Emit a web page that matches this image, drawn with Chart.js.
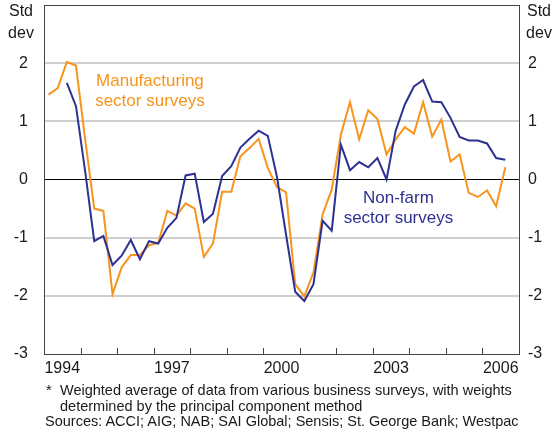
<!DOCTYPE html>
<html>
<head>
<meta charset="utf-8">
<script src="https://cdn.jsdelivr.net/npm/chart.js@4.4.1/dist/chart.umd.min.js"></script>
<style>
  html, body { margin: 0; padding: 0; background: #fff; }
  #wrap { position: relative; width: 557px; height: 433px; font-family: "Liberation Sans", Arial, sans-serif; }
  canvas { position: absolute; left: 0; top: 0; }
  #notes { position: absolute; left: 45px; top: 383px; font-size: 14.5px; line-height: 15.5px; color: #1a1a1a; white-space: nowrap; }
  #notes .fn { position: relative; padding-left: 15px; }
  #notes .fn span { position: absolute; left: 1px; top: 0; }
</style>
</head>
<body>
<div id="wrap">
  <canvas id="c" width="557" height="433"></canvas>
  <div id="notes">
    <div class="fn"><span>*</span>Weighted average of data from various business surveys, with weights<br>determined by the principal component method</div>
    <div>Sources: ACCI; AIG; NAB; SAI Global; Sensis; St. George Bank; Westpac</div>
  </div>
</div>
<script>
// Quarterly data, first quarter = 1994 Q1
const startYear = 1994;
const manufacturing = [
  1.46, 1.57, 2.02, 1.96,
  0.70, -0.50, -0.54, -1.97,
  -1.51, -1.30, -1.30, -1.13,
  -1.09, -0.54, -0.62, -0.41,
  -0.50, -1.33, -1.10, -0.21,
  -0.21, 0.40, 0.54, 0.70,
  0.20, -0.13, -0.22, -1.80,
  -2.01, -1.60, -0.60, -0.17,
  0.77, 1.33, 0.69, 1.19,
  1.04, 0.43, 0.69, 0.90,
  0.79, 1.33, 0.74, 1.03,
  0.31, 0.43, -0.23, -0.30,
  -0.19, -0.46, 0.21
];
const nonFarm = [
  null, null, 1.66, 1.26,
  0.15, -1.06, -0.97, -1.47,
  -1.31, -1.04, -1.37, -1.06,
  -1.10, -0.83, -0.66, 0.07,
  0.10, -0.73, -0.59, 0.06,
  0.23, 0.55, 0.70, 0.84,
  0.75, 0.05, -0.95, -1.93,
  -2.09, -1.80, -0.71, -0.88,
  0.60, 0.16, 0.30, 0.21,
  0.37, 0.00, 0.84, 1.29,
  1.60, 1.71, 1.34, 1.33,
  1.06, 0.73, 0.67, 0.67,
  0.62, 0.37, 0.34
];
const yTickValues = [-3, -2, -1, 0, 1, 2, 3];
const yearLabels = [1994, 1997, 2000, 2003, 2006];
const yearTicks = [1995, 1996, 1997, 1998, 1999, 2000, 2001, 2002, 2003, 2004, 2005, 2006];

const BLUE = '#2e3192';
const ORANGE = '#f7941d';
const FONT = '"Liberation Sans", Arial, sans-serif';

function toPoints(arr) {
  return arr.map((v, i) => ({ x: startYear + (i + 0.5) / 4, y: v }));
}

const decor = {
  id: 'decor',
  afterDatasetsDraw(chart) {
    const ctx = chart.ctx;
    const a = chart.chartArea;
    const xs = chart.scales.x, ys = chart.scales.y;
    ctx.save();
    ctx.strokeStyle = '#444';
    ctx.lineWidth = 1;
    ctx.strokeRect(Math.round(a.left) + 0.5, Math.round(a.top) + 0.5,
      Math.round(a.right - a.left), Math.round(a.bottom - a.top));
    ctx.beginPath();
    yearTicks.forEach(y => {
      const px = Math.round(xs.getPixelForValue(y)) + 0.5;
      ctx.moveTo(px, a.bottom);
      ctx.lineTo(px, a.bottom - 6);
    });
    ctx.stroke();
    ctx.font = '17px ' + FONT;
    ctx.textAlign = 'center';
    ctx.textBaseline = 'middle';
    ctx.fillStyle = ORANGE;
    let cx = xs.getPixelForValue(1996.9), cy = ys.getPixelForValue(1.69);
    ctx.fillText('Manufacturing', cx, cy);
    ctx.fillText('sector surveys', cx, cy + 20);
    ctx.fillStyle = BLUE;
    cx = xs.getPixelForValue(2003.7); cy = ys.getPixelForValue(-0.33);
    ctx.fillText('Non-farm', cx, cy);
    ctx.fillText('sector surveys', cx, cy + 20);
    ctx.font = '16px ' + FONT;
    ctx.fillStyle = '#1a1a1a';
    ctx.fillText('Std', 21, 12);
    ctx.fillText('dev', 21, 34);
    ctx.fillText('Std', 539, 12);
    ctx.fillText('dev', 539, 34);
    ctx.restore();
  }
};

const gridColor = ctx => {
  const v = ctx.tick && ctx.tick.value;
  if (v === 0) return '#000';
  if (v === 3 || v === -3) return 'rgba(0,0,0,0)';
  return '#cfcfcf';
};
const gridWidth = ctx => (ctx.tick && ctx.tick.value === 0) ? 1 : 2;

function yAxis(position, width, pad) {
  return {
    type: 'linear',
    position: position,
    min: -3, max: 3,
    afterBuildTicks: s => { s.ticks = yTickValues.map(v => ({ value: v })); },
    afterFit: s => { s.width = width; s.paddingTop = 0; s.paddingBottom = 0; },
    ticks: {
      callback: v => (v === 3 ? '' : String(v)),
      color: '#1a1a1a',
      font: { family: FONT, size: 16 },
      padding: pad
    },
    grid: {
      display: position === 'left',
      drawTicks: false,
      color: gridColor,
      lineWidth: gridWidth
    },
    border: { display: false }
  };
}

new Chart(document.getElementById('c'), {
  type: 'line',
  data: {
    datasets: [
      {
        label: 'Non-farm sector surveys',
        data: toPoints(nonFarm),
        borderColor: BLUE,
        borderWidth: 2,
        pointRadius: 0,
        tension: 0,
        yAxisID: 'y'
      },
      {
        label: 'Manufacturing sector surveys',
        data: toPoints(manufacturing),
        borderColor: ORANGE,
        borderWidth: 2,
        pointRadius: 0,
        tension: 0,
        yAxisID: 'y'
      }
    ]
  },
  options: {
    responsive: false,
    animation: false,
    events: [],
    layout: { padding: { top: 5, left: 0, right: 0, bottom: 0 } },
    plugins: { legend: { display: false }, tooltip: { enabled: false }, title: { display: false } },
    scales: {
      x: {
        type: 'linear',
        min: 1994, max: 2007,
        afterBuildTicks: s => { s.ticks = yearLabels.map(y => ({ value: y + 0.5 })); },
        afterFit: s => { s.height = 79; s.paddingLeft = 0; s.paddingRight = 0; },
        ticks: {
          callback: v => String(Math.floor(v)),
          color: '#1a1a1a',
          font: { family: FONT, size: 16 },
          padding: 5,
          maxRotation: 0,
          autoSkip: false
        },
        grid: { display: false, drawTicks: false },
        border: { display: false }
      },
      y: yAxis('left', 44, 16),
      y2: yAxis('right', 38, 9)
    }
  },
  plugins: [decor]
});
</script>
</body>
</html>
